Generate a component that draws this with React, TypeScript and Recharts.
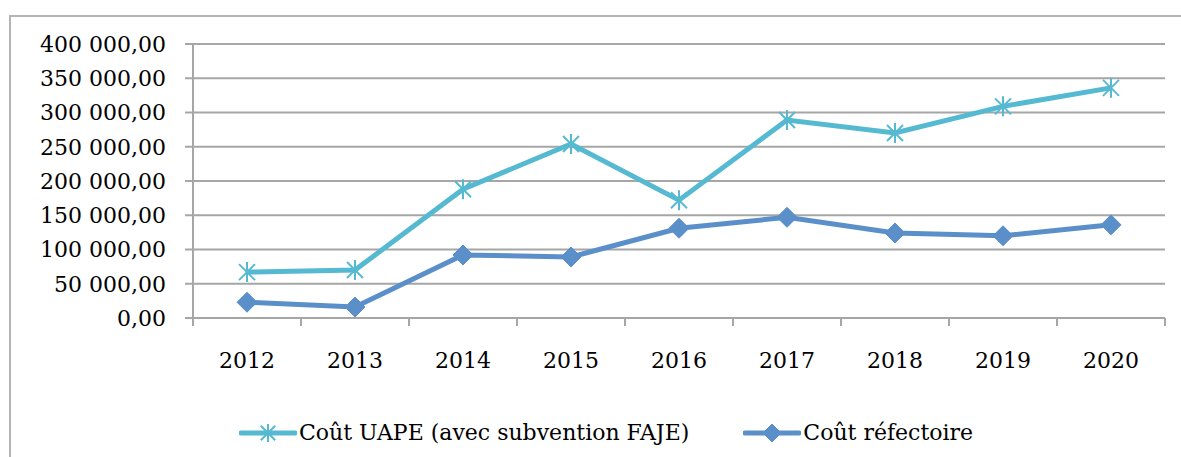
import React from 'react';
import { LineChart, Line, XAxis, YAxis, CartesianGrid, Legend } from 'recharts';

const years = ['2012', '2013', '2014', '2015', '2016', '2017', '2018', '2019', '2020'];
const uape = [67000, 70000, 188000, 254000, 172000, 289000, 270000, 309000, 336000];
const refectoire = [23000, 16000, 92000, 89000, 131000, 147000, 124000, 120000, 136000];
const yTicks = [0, 50000, 100000, 150000, 200000, 250000, 300000, 350000, 400000];
const seriesNames = ['Coût UAPE (avec subvention FAJE)', 'Coût réfectoire'];

const CYAN = '#55b9d1';
const BLUE = '#5b8fc9';
const GRID = '#a6a6a6';
const FONT = '"DejaVu Serif", serif';

const data = years.map((year, i) => ({ x: i + 0.5, year, uape: uape[i], refectoire: refectoire[i] }));
const xTicks: number[] = [];
years.forEach((_, i) => { xTicks.push(i); xTicks.push(i + 0.5); });
xTicks.push(years.length);

const fmt = (n: number) => Math.round(n).toString().replace(/\B(?=(\d{3})+(?!\d))/g, ' ') + ',00';

const Star = ({ cx, cy, size = 10 }: any) => (
  <g stroke={CYAN} strokeWidth={2}>
    <line x1={cx} y1={cy - size} x2={cx} y2={cy + size} />
    <line x1={cx - size * 0.8} y1={cy - size * 0.8} x2={cx + size * 0.8} y2={cy + size * 0.8} />
    <line x1={cx - size * 0.8} y1={cy + size * 0.8} x2={cx + size * 0.8} y2={cy - size * 0.8} />
  </g>
);

const Diamond = ({ cx, cy, size = 10 }: any) => (
  <path d={`M${cx},${cy - size}L${cx + size},${cy}L${cx},${cy + size}L${cx - size},${cy}Z`} fill={BLUE} stroke={BLUE} />
);

const StarDot = (props: any) => <Star key={`s${props.index}`} cx={props.cx} cy={props.cy} />;
const DiamondDot = (props: any) => <Diamond key={`d${props.index}`} cx={props.cx} cy={props.cy} />;

const XTick = (props: any) => {
  const { x, y, payload } = props;
  const v = payload.value;
  if (Number.isInteger(v)) {
    return <line x1={x} x2={x} y1={y} y2={y + 8} stroke={GRID} strokeWidth={2} />;
  }
  return (
    <text x={x} y={y + 50} textAnchor="middle" fontFamily={FONT} fontSize={22} fill="#000">
      {years[Math.floor(v)]}
    </text>
  );
};

const renderLegend = () => (
  <div style={{ display: 'flex', alignItems: 'center', fontFamily: FONT, fontSize: 22, color: '#000' }}>
    <div style={{ display: 'flex', alignItems: 'center', marginRight: 54 }}>
      <svg width={58} height={24}>
        <line x1={2} y1={12} x2={56} y2={12} stroke={CYAN} strokeWidth={5} strokeLinecap="round" />
        <Star cx={29} cy={12} size={9} />
      </svg>
      <span style={{ marginLeft: 2 }}>{seriesNames[0]}</span>
    </div>
    <div style={{ display: 'flex', alignItems: 'center' }}>
      <svg width={58} height={24}>
        <line x1={2} y1={12} x2={56} y2={12} stroke={BLUE} strokeWidth={5} strokeLinecap="round" />
        <Diamond cx={29} cy={12} size={9} />
      </svg>
      <span style={{ marginLeft: 2 }}>{seriesNames[1]}</span>
    </div>
  </div>
);

export default function App() {
  return (
    <div style={{ position: 'absolute', left: 0, top: 0, width: 1181, height: 457, overflow: 'hidden', background: '#fff' }}>
      <div style={{ position: 'absolute', left: 9, top: 15, width: 1300, height: 600, border: '2px solid #b4b4b4' }} />
      <div style={{ position: 'absolute', left: 0, top: 0 }}>
        <LineChart width={1181} height={457} data={data} margin={{ top: 44, right: 16, left: 0, bottom: 0 }}>
          <CartesianGrid horizontal vertical={false} stroke={GRID} strokeWidth={2} />
          <XAxis
            dataKey="x"
            type="number"
            domain={[0, years.length]}
            ticks={xTicks}
            interval={0}
            tick={<XTick />}
            tickLine={false}
            tickSize={0}
            tickMargin={0}
            axisLine={{ stroke: GRID, strokeWidth: 2 }}
            height={79}
          />
          <YAxis
            domain={[0, 400000]}
            ticks={yTicks}
            interval={0}
            tickFormatter={fmt}
            width={193}
            tickSize={8}
            tickMargin={19}
            tickLine={{ stroke: GRID, strokeWidth: 2 }}
            axisLine={{ stroke: GRID, strokeWidth: 2 }}
            tick={{ fontFamily: FONT, fontSize: 22, fill: '#000' }}
          />
          <Legend content={renderLegend} height={60} wrapperStyle={{ left: 239, top: 420, width: 900 }} />
          <Line
            name={seriesNames[0]}
            dataKey="uape"
            stroke={CYAN}
            strokeWidth={5}
            dot={StarDot}
            isAnimationActive={false}
          />
          <Line
            name={seriesNames[1]}
            dataKey="refectoire"
            stroke={BLUE}
            strokeWidth={5}
            dot={DiamondDot}
            isAnimationActive={false}
          />
        </LineChart>
      </div>
    </div>
  );
}
